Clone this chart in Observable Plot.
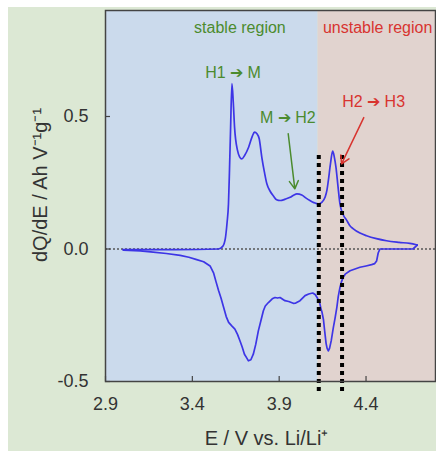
<!DOCTYPE html>
<html>
<head>
<meta charset="utf-8">
<script src="https://cdn.jsdelivr.net/npm/d3@7"></script>
<script src="https://cdn.jsdelivr.net/npm/@observablehq/plot@0.6"></script>
<style>
  html, body { margin: 0; padding: 0; background: #ffffff; }
  #wrap { position: relative; width: 436px; height: 451px; overflow: hidden; }
  #bg { position: absolute; left: 8px; top: 7px; right: 0; bottom: 0; background: #dce8d4; }
  #chart { position: absolute; left: 0; top: 0; }
</style>
</head>
<body>
<div id="wrap"><div id="bg"></div><div id="chart"></div></div>
<script>
// ---- data ----
const chargeE = [3.00, 3.30, 3.55, 3.575, 3.59, 3.600, 3.608, 3.614, 3.620, 3.628, 3.636, 3.643, 3.660, 3.672, 3.685, 3.700, 3.724, 3.745, 3.758, 3.772, 3.785, 3.800, 3.815, 3.829, 3.848, 3.867, 3.885, 3.906, 3.935, 3.963, 3.985, 4.002, 4.030, 4.055, 4.077, 4.100, 4.126, 4.148, 4.164, 4.175, 4.183, 4.195, 4.208, 4.218, 4.227, 4.238, 4.250, 4.268, 4.289, 4.305, 4.327, 4.365, 4.403, 4.460, 4.518, 4.590, 4.652, 4.695];
const chargeQ = [-0.002, -0.002, 0.000, 0.010, 0.040, 0.100, 0.170, 0.300, 0.450, 0.624, 0.550, 0.460, 0.372, 0.348, 0.340, 0.352, 0.384, 0.425, 0.441, 0.435, 0.416, 0.346, 0.290, 0.246, 0.218, 0.200, 0.186, 0.183, 0.188, 0.195, 0.204, 0.208, 0.204, 0.192, 0.183, 0.175, 0.170, 0.178, 0.195, 0.222, 0.258, 0.320, 0.369, 0.345, 0.308, 0.240, 0.170, 0.130, 0.108, 0.090, 0.076, 0.060, 0.050, 0.039, 0.031, 0.025, 0.021, 0.015];

const dischargeE = [4.695, 4.670, 4.480, 4.470, 4.461, 4.450, 4.432, 4.400, 4.365, 4.308, 4.280, 4.268, 4.258, 4.250, 4.240, 4.232, 4.222, 4.212, 4.200, 4.190, 4.183, 4.176, 4.170, 4.162, 4.155, 4.147, 4.140, 4.134, 4.120, 4.107, 4.093, 4.070, 4.049, 4.020, 3.995, 3.981, 3.955, 3.933, 3.905, 3.890, 3.876, 3.860, 3.838, 3.820, 3.809, 3.795, 3.780, 3.765, 3.751, 3.737, 3.723, 3.712, 3.700, 3.687, 3.674, 3.660, 3.645, 3.627, 3.609, 3.595, 3.580, 3.565, 3.551, 3.537, 3.522, 3.502, 3.465, 3.425, 3.380, 3.330, 3.250, 3.160, 3.100, 3.003];
const dischargeQ = [0.015, 0.000, 0.000, -0.015, -0.045, -0.055, -0.059, -0.064, -0.069, -0.082, -0.095, -0.107, -0.125, -0.145, -0.180, -0.220, -0.260, -0.296, -0.345, -0.375, -0.384, -0.375, -0.356, -0.310, -0.267, -0.240, -0.224, -0.205, -0.185, -0.172, -0.166, -0.170, -0.176, -0.195, -0.204, -0.205, -0.198, -0.195, -0.183, -0.185, -0.183, -0.188, -0.202, -0.215, -0.233, -0.270, -0.309, -0.360, -0.397, -0.418, -0.422, -0.410, -0.397, -0.370, -0.346, -0.322, -0.302, -0.290, -0.277, -0.255, -0.220, -0.185, -0.157, -0.125, -0.090, -0.064, -0.048, -0.040, -0.031, -0.024, -0.017, -0.011, -0.007, -0.004];

const xTicks = [2.9, 3.4, 3.9, 4.4];
const yTicks = [-0.5, 0.0, 0.5];

const regionNames = ["stable region", "unstable region"];
const regionFrom = [2.9, 4.124];
const regionTo = [4.124, 4.8];
const regionLabelX = [3.674, 4.467];
const regionLabelY = [0.836, 0.836];

const markerE = [4.128, 4.262];
const markerTop = 0.353;
const markerBottom = -0.543;

const transLabels = ["H1 ➔ M", "M ➔ H2", "H2 ➔ H3"];
const transX = [3.634, 3.950, 4.444];
const transY = [0.666, 0.496, 0.557];
const transGroup = ["stable", "stable", "unstable"];

const arrowX1 = [3.952, 4.387];
const arrowY1 = [0.435, 0.496];
const arrowX2 = [3.990, 4.259];
const arrowY2 = [0.227, 0.321];
const arrowGroup = ["stable", "unstable"];

const xTitle = "E / V vs. Li/Li⁺";
const yTitle = "dQ/dE / Ah V⁻¹g⁻¹";

// ---- build ----
const charge = chargeE.map((e, i) => ({E: e, Q: chargeQ[i]}));
const discharge = dischargeE.map((e, i) => ({E: e, Q: dischargeQ[i]}));
const regions = regionNames.map((n, i) => ({name: n, x1: regionFrom[i], x2: regionTo[i], lx: regionLabelX[i], ly: regionLabelY[i]}));
const trans = transLabels.map((t, i) => ({t, x: transX[i], y: transY[i], g: transGroup[i]}));
const arrows = arrowX1.map((x, i) => ({x1: x, y1: arrowY1[i], x2: arrowX2[i], y2: arrowY2[i], g: arrowGroup[i]}));
const markers = markerE.map(e => ({E: e, y1: markerTop, y2: markerBottom}));

const GREEN = "#4b8b2e", RED = "#d8342f";
const fmt = d => d.toFixed(1);

const chart = Plot.plot({
  width: 436,
  height: 451,
  marginLeft: 105,
  marginTop: 10,
  marginRight: 1,
  marginBottom: 70,
  style: {background: "transparent", fontFamily: "'Liberation Sans', Arial, sans-serif", fontSize: "18px", color: "#333"},
  x: {domain: [2.9, 4.8]},
  y: {domain: [-0.5, 0.9]},
  marks: [
    Plot.rect(regions, {x1: "x1", x2: "x2", fill: (d, i) => i === 0 ? "#cbdaec" : "#e1d3cf"}),
    Plot.ruleY([0], {stroke: "#555", strokeWidth: 1.5, strokeDasharray: "2,2"}),
    Plot.line(charge, {x: "E", y: "Q", stroke: "#3d35e6", strokeWidth: 1.7, curve: "monotone-x"}),
    Plot.line(discharge, {x: "E", y: "Q", stroke: "#3d35e6", strokeWidth: 1.7, curve: "linear"}),
    Plot.ruleX(markers, {x: "E", y1: "y1", y2: "y2", stroke: "#000", strokeWidth: 4, strokeDasharray: "4,4"}),
    Plot.frame({stroke: "#444", strokeWidth: 1.5}),
    Plot.axisX({ticks: xTicks, tickSize: 5, dy: -5, tickFormat: () => "", stroke: "#444", strokeWidth: 1.2, label: null}),
    Plot.axisX({ticks: xTicks, tickSize: 0, tickPadding: 16, tickFormat: fmt, fontSize: 18, fill: "#333", label: null}),
    Plot.axisY({ticks: yTicks, tickSize: 5, dx: 5, tickFormat: () => "", stroke: "#444", strokeWidth: 1.2, label: null}),
    Plot.axisY({ticks: yTicks, tickSize: 0, tickPadding: 17, tickFormat: fmt, fontSize: 18, fill: "#333", label: null}),
    Plot.text(regions, {x: "lx", y: "ly", text: "name", fill: (d, i) => i === 0 ? GREEN : RED, fontSize: 16}),
    Plot.text(trans, {x: "x", y: "y", text: "t", fill: d => d.g === "stable" ? GREEN : RED, fontSize: 16}),
    Plot.arrow(arrows, {x1: "x1", y1: "y1", x2: "x2", y2: "y2", stroke: d => d.g === "stable" ? GREEN : RED, strokeWidth: 1.5, headLength: 9}),
    Plot.text([xTitle], {text: d => d, frameAnchor: "bottom", lineAnchor: "middle", dy: 57, dx: -4, fontSize: 20, fill: "#333"}),
    Plot.text([yTitle], {text: d => d, frameAnchor: "left", textAnchor: "middle", rotate: -90, dx: -65, dy: -11, fontSize: 20, fill: "#333"})
  ]
});
document.getElementById("chart").appendChild(chart);
</script>
</body>
</html>
